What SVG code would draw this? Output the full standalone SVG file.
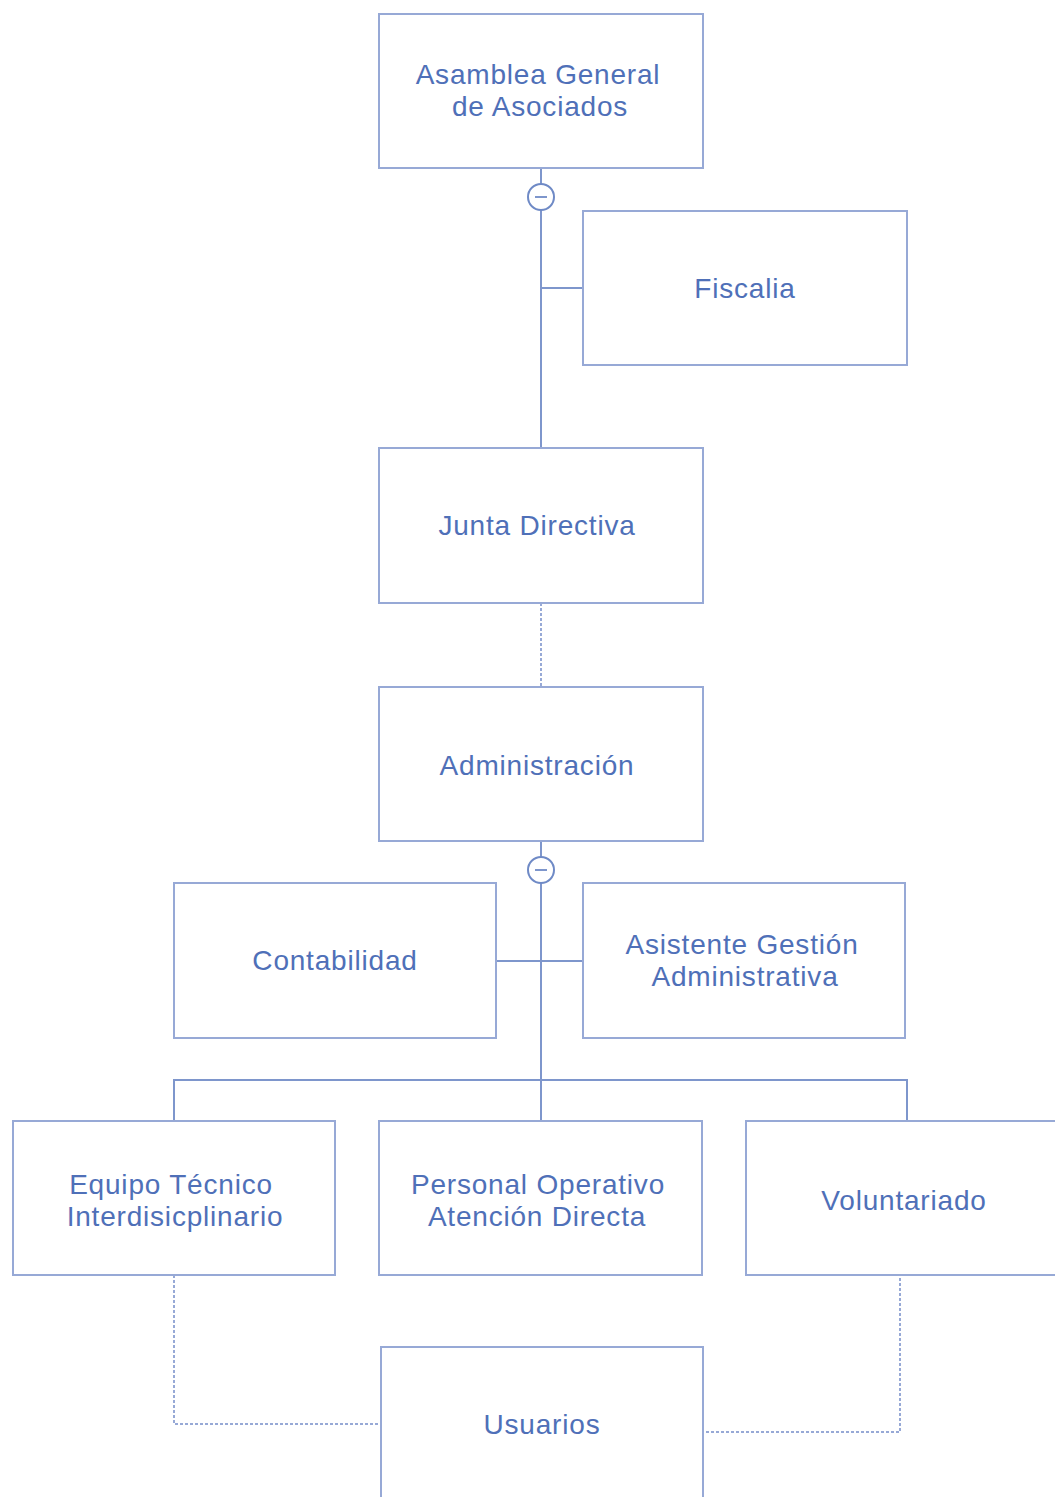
<svg xmlns="http://www.w3.org/2000/svg" width="1055" height="1497" viewBox="0 0 1055 1497">
<style>
.box{fill:#fff;stroke:#97a9d6;stroke-width:2}
.t{font-family:"Liberation Sans",Arial,sans-serif;font-size:28px;fill:#4f70b8;text-anchor:middle;letter-spacing:0.8px}
.ln{fill:none;stroke:#7e96cc;stroke-width:2}
.dot{fill:none;stroke:#97a9d6;stroke-width:2;stroke-dasharray:3 2}
.ci{fill:#fff;stroke:#6f8ac6;stroke-width:2}
</style>
<rect width="1055" height="1497" fill="#fff"/>
<g id="connectors">
<path class="ln" d="M541 168V448M541 288H583"/>
<path class="dot" d="M541 603V687"/>
<path class="ln" d="M541 841V1121M496 961H583M174 1121V1080H907V1121"/>
<path class="dot" d="M174 1275V1424H381"/>
<path class="dot" d="M900 1278V1432H703"/>
<circle class="ci" cx="541" cy="197" r="13"/><path class="ln" d="M535 197H547"/>
<circle class="ci" cx="541" cy="870" r="13"/><path class="ln" d="M535 870H547"/>
</g>
<g id="asamblea"><rect class="box" x="379" y="14" width="324" height="154"/><text class="t" x="538" y="84">Asamblea General</text><text class="t" x="540" y="116">de Asociados</text></g>
<g id="fiscalia"><rect class="box" x="583" y="211" width="324" height="154"/><text class="t" x="745" y="298">Fiscalia</text></g>
<g id="junta"><rect class="box" x="379" y="448" width="324" height="155"/><text class="t" x="537" y="535">Junta Directiva</text></g>
<g id="administracion"><rect class="box" x="379" y="687" width="324" height="154"/><text class="t" x="537" y="775">Administración</text></g>
<g id="contabilidad"><rect class="box" x="174" y="883" width="322" height="155"/><text class="t" x="335" y="970">Contabilidad</text></g>
<g id="asistente"><rect class="box" x="583" y="883" width="322" height="155"/><text class="t" x="742" y="954">Asistente Gestión</text><text class="t" x="745" y="986">Administrativa</text></g>
<g id="equipo"><rect class="box" x="13" y="1121" width="322" height="154"/><text class="t" x="171" y="1194">Equipo Técnico</text><text class="t" x="175" y="1226">Interdisicplinario</text></g>
<g id="personal"><rect class="box" x="379" y="1121" width="323" height="154"/><text class="t" x="538" y="1194">Personal Operativo</text><text class="t" x="537" y="1226">Atención Directa</text></g>
<g id="voluntariado"><rect class="box" x="746" y="1121" width="320" height="154"/><text class="t" x="904" y="1210">Voluntariado</text></g>
<g id="usuarios"><rect class="box" x="381" y="1347" width="322" height="160"/><text class="t" x="542" y="1434">Usuarios</text></g>
</svg>
